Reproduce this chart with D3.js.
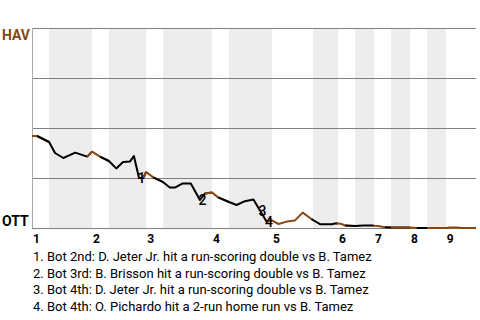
<!DOCTYPE html>
<html>
<head>
<meta charset="utf-8">
<script src="https://cdn.jsdelivr.net/npm/d3@7"></script>
<style>
  body { margin: 0; background: #fff; }
  text { font-family: Roboto, "Noto Sans", sans-serif; }
</style>
</head>
<body>
<script>
// game progress is measured in plays (plate appearances), win prob is for HAV
let innings = [1, 2, 3, 4, 5, 6, 7, 8, 9];
// start of each half inning (top 1st, bot 1st, top 2nd, ...), in plays
let halfStarts = [0, 3, 10.55, 13.5, 20.05, 23.05, 31.6, 34.6, 42.15, 49.35, 53.75, 56.75, 60.1, 63.05, 66.4, 69.4, 72.7];
let totalPlays = 78;

let playX = [0, 0.9, 3.0, 4.05, 5.5, 7.6, 9.7, 10.55, 11.95, 13.5, 14.8, 16.0, 17.2, 17.9, 18.8, 19.55,
             20.05, 21.3, 23.05, 24.2, 25.1, 26.4, 27.9, 29.5, 30.4, 31.6, 32.7, 34.6, 35.95, 37.4, 38.9,
             40.05, 41.2, 42.15, 43.3, 44.75, 46.2, 47.55, 49.1, 49.35, 50.6, 52.65, 53.5, 53.75, 54.4,
             55.0, 56.75, 58.2, 59.95, 60.1, 60.8, 62.0, 63.05, 66.4, 67.6, 69.4, 72.7, 73.4, 74.6, 75.5, 78];
let playWP = [0.46, 0.46, 0.43, 0.375, 0.35, 0.377, 0.357, 0.382, 0.357, 0.335, 0.298, 0.33, 0.332, 0.36, 0.25, 0.25,
              0.28, 0.253, 0.229, 0.202, 0.202, 0.222, 0.222, 0.14, 0.173, 0.178, 0.153, 0.13, 0.115, 0.134, 0.142,
              0.087, 0.032, 0.038, 0.02, 0.032, 0.038, 0.077, 0.045, 0.04, 0.019, 0.019, 0.024, 0.022, 0.02,
              0.012, 0.01, 0.012, 0.012, 0.011, 0.01, 0.004, 0.002, 0.002, 0, 0, 0, 0.003, 0.003, 0, 0];

let scoringIdx = [14, 23, 31, 32];
let scoringText = [
  "1. Bot 2nd: D. Jeter Jr. hit a run-scoring double vs B. Tamez",
  "2. Bot 3rd: B. Brisson hit a run-scoring double vs B. Tamez",
  "3. Bot 4th: D. Jeter Jr. hit a run-scoring double vs B. Tamez",
  "4. Bot 4th: O. Pichardo hit a 2-run home run vs B. Tamez"
];
let teams = ["HAV", "OTT"];
let yTicks = [0, 0.25, 0.5, 0.75, 1];

let W = 480, H = 320;
let margin = {top: 28, right: 4, bottom: 92, left: 32};
let brown = "#8b4513";

let svg = d3.select("body").append("svg")
    .attr("width", W).attr("height", H);

let x = d3.scaleLinear().domain([0, totalPlays]).range([margin.left, W - margin.right]);
let y = d3.scaleLinear().domain([0, 1]).range([H - margin.bottom, margin.top]);

//bands for bottom halves
let halfEnds = halfStarts.slice(1).concat([totalPlays]);
svg.append("g").selectAll("rect")
    .data(halfStarts.filter((d, i) => i % 2 == 1))
    .enter().append("rect")
    .attr("x", d => x(d))
    .attr("y", y(1))
    .attr("width", d => x(halfEnds[halfStarts.indexOf(d)]) - x(d))
    .attr("height", y(0) - y(1))
    .attr("fill", "#ededed");

//grid
svg.append("g")
    .attr("transform", "translate(" + margin.left + ",0)")
    .call(d3.axisRight(y).tickValues(yTicks).tickSize(W - margin.right - margin.left).tickFormat(""))
    .call(g => g.select(".domain").remove())
    .call(g => g.selectAll("line").attr("stroke", "#808080"));

svg.append("line")
    .attr("x1", margin.left + 0.5).attr("x2", margin.left + 0.5)
    .attr("y1", y(1)).attr("y2", y(0))
    .attr("stroke", "#aaa");

//team labels
svg.append("text").attr("x", 2).attr("y", y(1) + 12)
    .attr("font-weight", "bold").attr("font-size", 14).attr("fill", brown)
    .text(teams[0]);
svg.append("text").attr("x", 2).attr("y", y(0) - 2)
    .attr("font-weight", "bold").attr("font-size", 14).attr("fill", "#000")
    .text(teams[1]);

//inning labels
svg.append("g").selectAll("text")
    .data(innings)
    .enter().append("text")
    .attr("x", (d, i) => x(halfStarts[i * 2]) + 1)
    .attr("y", y(0) + 14.5)
    .attr("font-weight", "bold").attr("font-size", 12)
    .text(d => d);

//win prob line, one path per half inning
let line = d3.line().x(d => x(d[0])).y(d => y(d[1]));
let pts = playX.map((d, i) => [d, playWP[i]]);
halfStarts.forEach(function(s, h) {
    let e = halfEnds[h];
    let seg = pts.filter(p => p[0] >= s && p[0] <= e);
    let prev = pts.filter(p => p[0] < s);
    if (prev.length) seg.unshift(prev[prev.length - 1]);
    svg.append("path")
        .datum(seg)
        .attr("d", line)
        .attr("fill", "none")
        .attr("stroke", h % 2 == 0 ? brown : "#000")
        .attr("stroke-width", 2)
        .attr("stroke-linejoin", "round");
});

//scoring play markers
svg.append("g").selectAll("text")
    .data(scoringIdx)
    .enter().append("text")
    .attr("x", d => x(playX[d]) + 2.5)
    .attr("y", d => y(playWP[d]))
    .attr("dy", "0.35em")
    .attr("text-anchor", "middle")
    .attr("font-size", 14)
    .attr("font-weight", 500)
    .text((d, i) => i + 1);

//notes
svg.append("g").selectAll("text")
    .data(scoringText)
    .enter().append("text")
    .attr("x", 33)
    .attr("y", (d, i) => 261 + i * 16.7)
    .attr("font-size", 13)
    .text(d => d);
</script>
</body>
</html>
